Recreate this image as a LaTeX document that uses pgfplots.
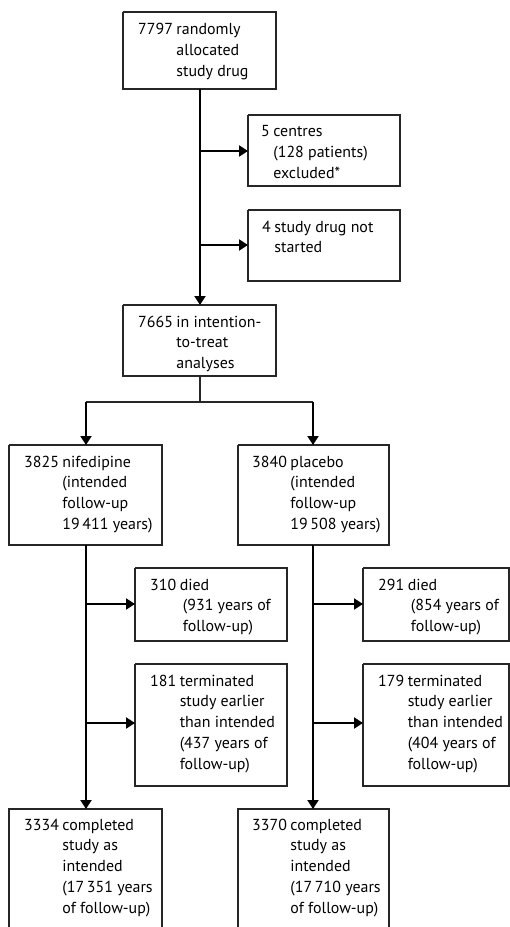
\documentclass[border=0pt]{standalone}
\usepackage{pgfplots}
\pgfplotsset{compat=1.18}
\usetikzlibrary{arrows.meta}
\usepackage{fontspec}
\setmainfont{PT Sans}
\newcommand{\ff}{\fontsize{16}{21}\selectfont}
\tikzset{
  box/.style={draw=black!85, line width=1.2bp, line join=miter, mark=none},
  con/.style={black, line width=2bp, mark=none},
  arr/.style={con, -{Triangle[length=9bp,width=11bp]}},
  thin con/.style={black!85, line width=1.3bp, mark=none},
  txt/.style={anchor=base west, inner sep=0pt, font=\ff},
}
\begin{document}
\begin{tikzpicture}
\path[use as bounding box] (0,0) rectangle (510bp,927bp);
\begin{axis}[
  width=510bp, height=927bp, scale only axis,
  xmin=0, xmax=510, ymin=0, ymax=927, y dir=reverse,
  hide axis, clip=false,
]
% boxes
\addplot[box] coordinates {(123,12) (276,12) (276,89) (123,89) (123,12)};
\addplot[box] coordinates {(248,115) (400,115) (400,186) (248,186) (248,115)};
\addplot[box] coordinates {(248,210) (400,210) (400,281) (248,281) (248,210)};
\addplot[box] coordinates {(123,305) (276,305) (276,376) (123,376) (123,305)};
\addplot[box] coordinates {(9,445) (162,445) (162,545) (9,545) (9,445)};
\addplot[box] coordinates {(238,445) (389,445) (389,545) (238,545) (238,445)};
\addplot[box] coordinates {(135,568) (287,568) (287,641) (135,641) (135,568)};
\addplot[box] coordinates {(363,568) (509,568) (509,641) (363,641) (363,568)};
\addplot[box] coordinates {(135,664) (287,664) (287,786) (135,786) (135,664)};
\addplot[box] coordinates {(363,664) (509,664) (509,786) (363,786) (363,664)};
\addplot[box] coordinates {(9,930) (9,809) (162,809) (162,930)};
\addplot[box] coordinates {(238,930) (238,809) (389,809) (389,930)};
% connectors
\addplot[arr] coordinates {(200,89) (200,305)};
\addplot[arr] coordinates {(200,151) (248,151)};
\addplot[arr] coordinates {(200,245) (248,245)};
\addplot[thin con] coordinates {(200,376) (200,402)};
\addplot[thin con] coordinates {(86,402) (313,402)};
\addplot[arr] coordinates {(86,402) (86,445)};
\addplot[arr] coordinates {(313,402) (313,445)};
\addplot[arr] coordinates {(86,545) (86,809)};
\addplot[arr] coordinates {(313,545) (313,809)};
\addplot[arr] coordinates {(86,604) (135,604)};
\addplot[arr] coordinates {(86,723) (135,723)};
\addplot[arr] coordinates {(313,604) (363,604)};
\addplot[arr] coordinates {(313,723) (363,723)};
% texts
\node[txt] at (axis cs:138,35) {\begin{tabular}[t]{@{}l@{\hspace{0.22em}}l@{}}7797 & randomly\\ & allocated\\ & study drug\end{tabular}};
\node[txt] at (axis cs:261,137) {\begin{tabular}[t]{@{}l@{\hspace{0.22em}}l@{}}5 & centres\\ & (128 patients)\\ & excluded*\end{tabular}};
\node[txt] at (axis cs:262,232) {\begin{tabular}[t]{@{}l@{\hspace{0.22em}}l@{}}4 & study drug not\\ & started\end{tabular}};
\node[txt] at (axis cs:138,327) {\begin{tabular}[t]{@{}l@{\hspace{0.22em}}l@{}}7665 & in intention-\\ & to-treat\\ & analyses\end{tabular}};
\node[txt] at (axis cs:24,467) {\begin{tabular}[t]{@{}l@{\hspace{0.22em}}l@{}}3825 & nifedipine\\ & (intended\\ & follow-up\\ & 19\,411 years)\end{tabular}};
\node[txt] at (axis cs:252,467) {\begin{tabular}[t]{@{}l@{\hspace{0.22em}}l@{}}3840 & placebo\\ & (intended\\ & follow-up\\ & 19\,508 years)\end{tabular}};
\node[txt] at (axis cs:150,590) {\begin{tabular}[t]{@{}l@{\hspace{0.22em}}l@{}}310 & died\\ & \hspace{0.2em}(931 years of\\ & \hspace{0.2em}follow-up)\end{tabular}};
\node[txt] at (axis cs:378,590) {\begin{tabular}[t]{@{}l@{\hspace{0.22em}}l@{}}291 & died\\ & \hspace{0.2em}(854 years of\\ & \hspace{0.2em}follow-up)\end{tabular}};
\node[txt] at (axis cs:150,686) {\begin{tabular}[t]{@{}l@{\hspace{0.22em}}l@{}}181 & terminated\\ & study earlier\\ & than intended\\ & (437 years of\\ & follow-up)\end{tabular}};
\node[txt] at (axis cs:378,686) {\begin{tabular}[t]{@{}l@{\hspace{0.22em}}l@{}}179 & terminated\\ & study earlier\\ & than intended\\ & (404 years of\\ & follow-up)\end{tabular}};
\node[txt] at (axis cs:24,830) {\begin{tabular}[t]{@{}l@{\hspace{0.22em}}l@{}}3334 & completed\\ & study as\\ & intended\\ & (17\,351 years\\ & of follow-up)\end{tabular}};
\node[txt] at (axis cs:252,830) {\begin{tabular}[t]{@{}l@{\hspace{0.22em}}l@{}}3370 & completed\\ & study as\\ & intended\\ & (17\,710 years\\ & of follow-up)\end{tabular}};
\end{axis}
\end{tikzpicture}
\end{document}
